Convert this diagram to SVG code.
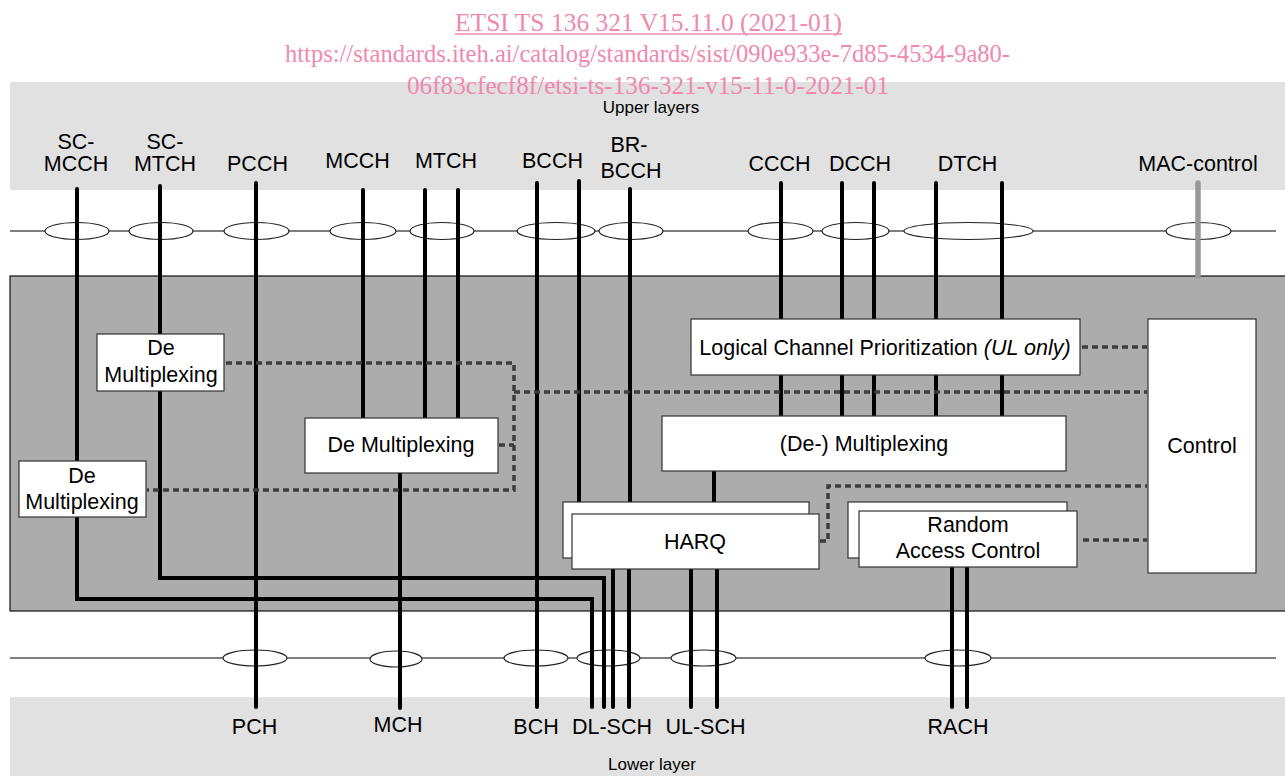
<svg xmlns="http://www.w3.org/2000/svg" width="1285" height="776" viewBox="0 0 1285 776">
<defs>
<style>
.lbl{font-family:"Liberation Sans",Arial,sans-serif;font-size:21.5px;fill:#000;text-anchor:middle}
.sm{font-family:"Liberation Sans",Arial,sans-serif;font-size:17px;fill:#000;text-anchor:middle}
.wm{font-family:"Liberation Serif","Times New Roman",serif;font-size:25px;fill:#f088b0}
.box{fill:#fff;stroke:#333;stroke-width:1.2}
.ch{fill:none;stroke:#000;stroke-width:4;stroke-linecap:round;stroke-linejoin:miter}
.dash{fill:none;stroke:#3c3c3c;stroke-width:3.5;stroke-dasharray:6 4}
.ell{fill:#fff;stroke:#222;stroke-width:1.2}
.thin{stroke:#555;stroke-width:1.4}
</style>
</defs>
<rect x="0" y="0" width="1285" height="776" fill="#fff"/>
<!-- bands -->
<rect x="10" y="82" width="1275" height="108" fill="#e1e1e1"/>
<rect x="10" y="697" width="1275" height="79" fill="#e1e1e1"/>
<rect x="10" y="276" width="1282" height="335" fill="#acacac" stroke="#111" stroke-width="1.2"/>
<text class="sm" x="651" y="113">Upper layers</text>
<text class="sm" x="652" y="770">Lower layer</text>
<!-- watermark -->
<g id="watermark">
<text class="wm" x="455" y="31" textLength="387" lengthAdjust="spacingAndGlyphs">ETSI TS 136 321 V15.11.0 (2021-01)</text>
<line x1="455" y1="34" x2="842" y2="34" stroke="#f088b0" stroke-width="1.3"/>
<text class="wm" x="285" y="62" textLength="725" lengthAdjust="spacingAndGlyphs">https://standards.iteh.ai/catalog/standards/sist/090e933e-7d85-4534-9a80-</text>
<text class="wm" x="407" y="94" textLength="482" lengthAdjust="spacingAndGlyphs">06f83cfecf8f/etsi-ts-136-321-v15-11-0-2021-01</text>
</g>
<!-- SAP lines -->
<line class="thin" x1="10" y1="231" x2="1276" y2="231"/>
<line class="thin" x1="10" y1="658" x2="1276" y2="658"/>
<g id="sap-upper">
<ellipse class="ell" cx="77" cy="231" rx="32" ry="8.5"/>
<ellipse class="ell" cx="161" cy="231" rx="32" ry="8.5"/>
<ellipse class="ell" cx="256.5" cy="231" rx="32.5" ry="8.5"/>
<ellipse class="ell" cx="363" cy="231" rx="33" ry="8.5"/>
<ellipse class="ell" cx="442" cy="231" rx="32" ry="8.5"/>
<ellipse class="ell" cx="556" cy="231" rx="39" ry="8.5"/>
<ellipse class="ell" cx="631" cy="231" rx="32" ry="8.5"/>
<ellipse class="ell" cx="780.5" cy="231" rx="32.5" ry="8.5"/>
<ellipse class="ell" cx="855.5" cy="231" rx="33.5" ry="8.5"/>
<ellipse class="ell" cx="968.5" cy="231" rx="64.5" ry="8.5"/>
<ellipse class="ell" cx="1198.5" cy="231" rx="32.5" ry="8.5"/>
</g>
<g id="sap-lower">
<ellipse class="ell" cx="255" cy="658" rx="32" ry="8"/>
<ellipse class="ell" cx="396" cy="659" rx="26" ry="8"/>
<ellipse class="ell" cx="536" cy="658" rx="32" ry="8"/>
<ellipse class="ell" cx="608.5" cy="658" rx="31.5" ry="8"/>
<ellipse class="ell" cx="703.5" cy="658" rx="32.5" ry="8"/>
<ellipse class="ell" cx="958" cy="658" rx="33" ry="8"/>
</g>
<!-- channel labels -->
<g id="labels-upper">
<text class="lbl" x="76" y="149">SC-</text>
<text class="lbl" x="76" y="171">MCCH</text>
<text class="lbl" x="165" y="149">SC-</text>
<text class="lbl" x="165" y="171">MTCH</text>
<text class="lbl" x="257.5" y="171">PCCH</text>
<text class="lbl" x="357.5" y="168">MCCH</text>
<text class="lbl" x="446" y="168">MTCH</text>
<text class="lbl" x="552.5" y="168">BCCH</text>
<text class="lbl" x="629" y="152">BR-</text>
<text class="lbl" x="631" y="178">BCCH</text>
<text class="lbl" x="779.5" y="171">CCCH</text>
<text class="lbl" x="860" y="171">DCCH</text>
<text class="lbl" x="967.5" y="171">DTCH</text>
<text class="lbl" x="1198" y="171">MAC-control</text>
</g>
<g id="labels-lower">
<text class="lbl" x="254.5" y="734">PCH</text>
<text class="lbl" x="398" y="732">MCH</text>
<text class="lbl" x="536" y="734">BCH</text>
<text class="lbl" x="612" y="734">DL-SCH</text>
<text class="lbl" x="705.5" y="734">UL-SCH</text>
<text class="lbl" x="958" y="734">RACH</text>
</g>
<!-- connectors -->
<g id="connectors">
<polyline class="ch" points="77,189 77,599 592,599 592,707"/>
<polyline class="ch" points="160,186 160,578 604,578 604,707"/>
<line class="ch" x1="256" y1="183" x2="256" y2="707"/>
<line class="ch" x1="363" y1="190" x2="363" y2="418"/>
<line class="ch" x1="425" y1="190" x2="425" y2="418"/>
<line class="ch" x1="458" y1="190" x2="458" y2="418"/>
<line class="ch" x1="400" y1="473" x2="400" y2="708"/>
<line class="ch" x1="537" y1="183" x2="537" y2="707"/>
<line class="ch" x1="579" y1="181" x2="579" y2="503"/>
<line class="ch" x1="630" y1="189" x2="630" y2="503"/>
<line class="ch" x1="781" y1="183" x2="781" y2="416"/>
<line class="ch" x1="842" y1="183" x2="842" y2="416"/>
<line class="ch" x1="874" y1="183" x2="874" y2="416"/>
<line class="ch" x1="936" y1="183" x2="936" y2="416"/>
<line class="ch" x1="1002" y1="183" x2="1002" y2="416"/>
<line class="ch" x1="714" y1="470" x2="714" y2="503"/>
<line class="ch" x1="613" y1="568" x2="613" y2="707"/>
<line class="ch" x1="629" y1="568" x2="629" y2="707"/>
<line class="ch" x1="691" y1="568" x2="691" y2="707"/>
<line class="ch" x1="717" y1="568" x2="717" y2="707"/>
<line class="ch" x1="952" y1="566" x2="952" y2="707"/>
<line class="ch" x1="967" y1="566" x2="967" y2="707"/>
<line x1="1198" y1="183" x2="1198" y2="276" stroke="#999" stroke-width="5.5" stroke-linecap="round"/>
<polyline class="dash" points="226,363 514,363 514,490 147,490"/>
<line class="dash" x1="499" y1="445" x2="514" y2="445"/>
<line class="dash" x1="514" y1="392" x2="1147" y2="392"/>
<line class="dash" x1="1082" y1="347" x2="1147" y2="347"/>
<polyline class="dash" points="820,541 828,541 828,486 1147,486"/>
<line class="dash" x1="1083" y1="540" x2="1147" y2="540"/>
</g>
<!-- nodes -->
<g id="demux-sc-mtch">
<rect class="box" x="97" y="334" width="127" height="57"/>
<text class="lbl" x="161" y="355">De</text>
<text class="lbl" x="161" y="382">Multiplexing</text>
</g>
<g id="demux-sc-mcch">
<rect class="box" x="19" y="461" width="127" height="56"/>
<text class="lbl" x="82" y="483">De</text>
<text class="lbl" x="82" y="509">Multiplexing</text>
</g>
<g id="demux-mch">
<rect class="box" x="305" y="418" width="193" height="55"/>
<text class="lbl" x="401" y="452">De Multiplexing</text>
</g>
<g id="lcp">
<rect class="box" x="691" y="319" width="389" height="56"/>
<text class="lbl" x="885" y="355">Logical Channel Prioritization <tspan font-style="italic">(UL only)</tspan></text>
</g>
<g id="mux">
<rect class="box" x="662" y="416" width="404" height="55"/>
<text class="lbl" x="864" y="451">(De-) Multiplexing</text>
</g>
<g id="harq">
<rect class="box" x="563" y="502" width="246" height="56"/>
<rect class="box" x="572" y="514" width="247" height="55"/>
<text class="lbl" x="695" y="549">HARQ</text>
</g>
<g id="rac">
<rect class="box" x="848" y="502" width="219" height="56"/>
<rect class="box" x="859" y="511" width="218" height="56"/>
<text class="lbl" x="968" y="532">Random</text>
<text class="lbl" x="968" y="558">Access Control</text>
</g>
<g id="control">
<rect class="box" x="1148" y="319" width="108" height="254"/>
<text class="lbl" x="1202" y="453">Control</text>
</g>
</svg>
